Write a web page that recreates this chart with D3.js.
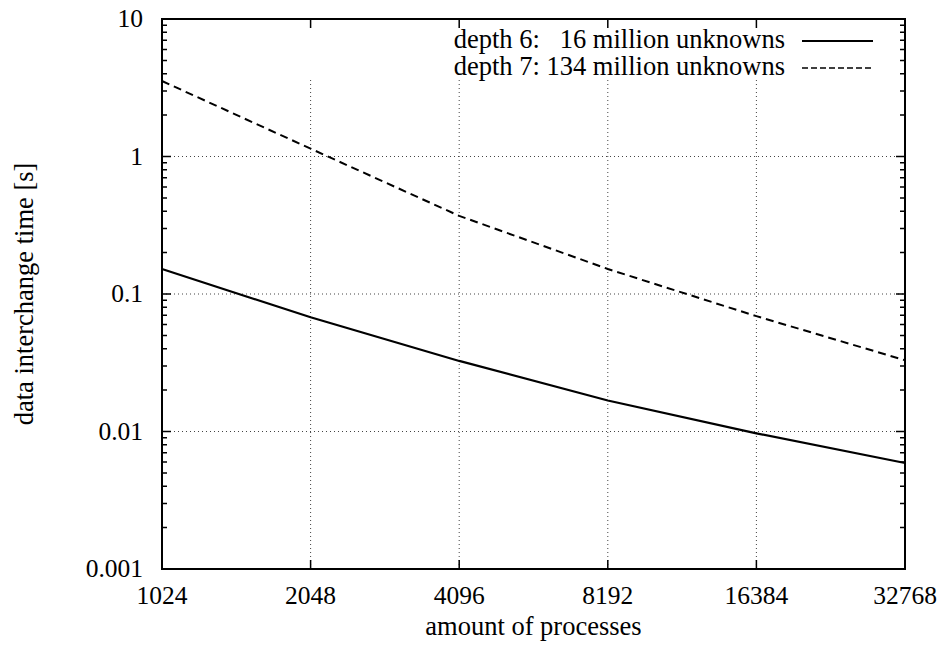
<!DOCTYPE html>
<html>
<head>
<meta charset="utf-8">
<script src="https://cdn.jsdelivr.net/npm/d3@7"></script>
</head>
<body>
<div id="chart"></div>
<script>
// values
let processes = [1024, 2048, 4096, 8192, 16384, 32768];
let depth6 = [0.152, 0.0677, 0.0326, 0.0168, 0.0097, 0.0059];
let depth7 = [3.54, 1.14, 0.37, 0.152, 0.069, 0.033];
let seriesNames = ["depth 6:   16 million unknowns", "depth 7: 134 million unknowns"];
let yTicks = [0.001, 0.01, 0.1, 1, 10];
let yTickLabels = ["0.001", "0.01", "0.1", "1", "10"];

let width = 945, height = 652;
let margin = { left: 162, right: 40, top: 19, bottom: 83 };
let fs = 25.5;

d3.select('body').style('margin', '0px');

let svg = d3.select('#chart').append('svg')
  .attr('width', width)
  .attr('height', height);

let x = d3.scaleLog().base(2)
  .domain([1024, 32768])
  .range([margin.left, width - margin.right]);

let y = d3.scaleLog()
  .domain([0.001, 10])
  .range([height - margin.bottom, margin.top]);

let x0 = x.range()[0], x1 = x.range()[1];
let y0 = y.range()[0], y1 = y.range()[1];
let keyBottom = 80;

// grid
let grid = svg.append('g')
  .attr('stroke', '#444')
  .attr('stroke-width', 1)
  .attr('stroke-dasharray', '1,3');

grid.selectAll('.vg')
  .data(processes.slice(1, -1))
  .enter().append('line')
  .attr('x1', d => x(d)).attr('x2', d => x(d))
  .attr('y1', keyBottom).attr('y2', y0);

grid.selectAll('.hg')
  .data(yTicks.slice(1, -1))
  .enter().append('line')
  .attr('x1', x0).attr('x2', x1)
  .attr('y1', d => y(d)).attr('y2', d => y(d));

// ticks (inward, both sides)
let ticks = svg.append('g').attr('stroke', '#000').attr('stroke-width', 1.5);

let minor = [];
yTicks.slice(0, -1).forEach(t => {
  for (let m = 2; m <= 9; m++) minor.push(t * m);
});

ticks.selectAll('.ymaj')
  .data(yTicks)
  .enter().append('path')
  .attr('d', d => `M${x0},${y(d)}h9M${x1},${y(d)}h-9`);

ticks.selectAll('.ymin')
  .data(minor)
  .enter().append('path')
  .attr('d', d => `M${x0},${y(d)}h5M${x1},${y(d)}h-5`);

ticks.selectAll('.xmaj')
  .data(processes)
  .enter().append('path')
  .attr('d', d => `M${x(d)},${y0}v-9M${x(d)},${y1}v9`);

// tick labels
svg.selectAll('.ylab')
  .data(yTicks)
  .enter().append('text')
  .attr('x', x0 - 19)
  .attr('y', d => y(d) + 8)
  .attr('text-anchor', 'end')
  .text((d, i) => yTickLabels[i]);

svg.selectAll('.xlab')
  .data(processes)
  .enter().append('text')
  .attr('x', d => x(d))
  .attr('y', y0 + 35)
  .attr('text-anchor', 'middle')
  .text(d => d);

// axis titles
svg.append('text')
  .attr('class', 'title')
  .attr('x', (x0 + x1) / 2)
  .attr('y', 635)
  .attr('text-anchor', 'middle')
  .text('amount of processes');

svg.append('text')
  .attr('class', 'title')
  .attr('transform', `translate(33,${(y0 + y1) / 2}) rotate(-90)`)
  .attr('text-anchor', 'middle')
  .text('data interchange time [s]');

// lines
let line = d3.line()
  .x((d, i) => x(processes[i]))
  .y(d => y(d));

svg.append('path')
  .attr('d', line(depth6))
  .attr('fill', 'none')
  .attr('stroke', '#000')
  .attr('stroke-width', 2.2);

svg.append('path')
  .attr('d', line(depth7))
  .attr('fill', 'none')
  .attr('stroke', '#000')
  .attr('stroke-width', 2)
  .attr('stroke-dasharray', '8,5');

// key
let key = svg.append('g');
[0, 1].forEach(i => {
  let ty = 48 + i * 27;
  key.append('text')
    .attr('class', 'title')
    .attr('x', 785)
    .attr('y', ty)
    .attr('text-anchor', 'end')
    .attr('xml:space', 'preserve')
    .text(seriesNames[i]);
  key.append('line')
    .attr('x1', 802).attr('x2', 873)
    .attr('y1', ty - 7).attr('y2', ty - 7)
    .attr('stroke', '#000')
    .attr('stroke-width', i == 0 ? 2 : 1.6)
    .attr('stroke-dasharray', i == 0 ? null : '6,3');
});

// frame
svg.append('rect')
  .attr('x', x0).attr('y', y1)
  .attr('width', x1 - x0).attr('height', y0 - y1)
  .attr('fill', 'none')
  .attr('stroke', '#000')
  .attr('stroke-width', 2);

// font on every text element
svg.selectAll('text')
  .attr('font-family', 'Liberation Serif')
  .attr('font-size', fs)
  .style('font-family', '"Liberation Serif"');
svg.selectAll('text.title').attr('font-size', 26.5);
</script>
</body>
</html>
